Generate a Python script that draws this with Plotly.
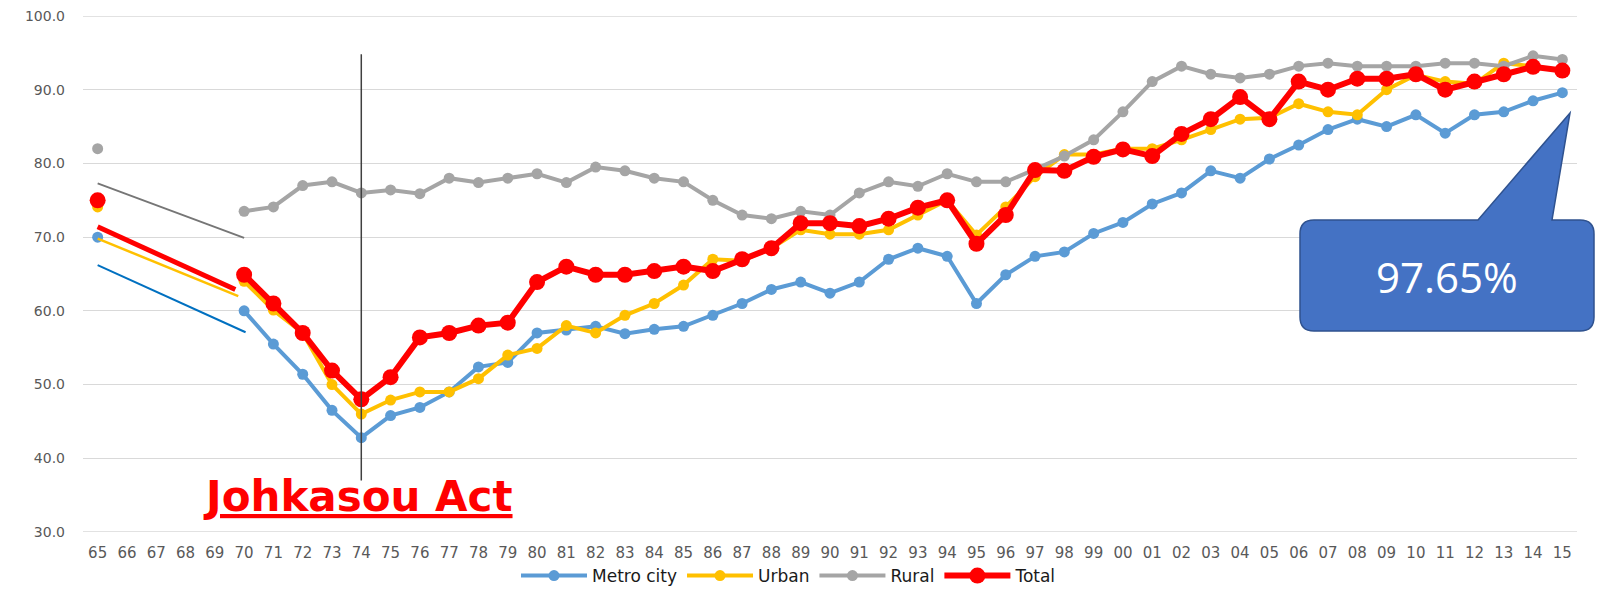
import plotly.graph_objects as go

years = ["65", "66", "67", "68", "69", "70", "71", "72", "73", "74",
         "75", "76", "77", "78", "79", "80", "81", "82", "83", "84",
         "85", "86", "87", "88", "89", "90", "91", "92", "93", "94",
         "95", "96", "97", "98", "99", "00", "01", "02", "03", "04",
         "05", "06", "07", "08", "09", "10", "11", "12", "13", "14", "15"]

metro = [70.0, None, None, None, None, 60.0, 55.5, 51.4, 46.5, 42.8,
         45.8, 46.9, 49.0, 52.4, 53.0, 57.0, 57.4, 57.9, 56.9, 57.5,
         57.9, 59.4, 61.0, 62.9, 63.9, 62.4, 63.9, 67.0, 68.5, 67.4,
         61.0, 64.9, 67.4, 68.0, 70.5, 72.0, 74.5, 76.0, 79.0, 78.0,
         80.6, 82.5, 84.6, 86.0, 85.0, 86.6, 84.1, 86.6, 87.0, 88.5, 89.6]

urban = [74.1, None, None, None, None, 64.0, 60.1, 57.0, 50.0, 46.0,
         47.9, 49.0, 49.0, 50.8, 54.0, 54.9, 58.0, 57.0, 59.4, 61.0,
         63.5, 67.0, 66.8, 68.5, 71.0, 70.4, 70.4, 71.0, 73.0, 75.0,
         70.3, 74.1, 78.2, 81.2, 81.2, 82.0, 82.0, 83.2, 84.6, 86.0,
         86.2, 88.1, 87.0, 86.6, 90.0, 92.0, 91.1, 90.8, 93.6, 93.2, 92.6]

rural = [82.0, None, None, None, None, 73.5, 74.1, 77.0, 77.5, 76.0,
         76.4, 75.9, 78.0, 77.4, 78.0, 78.6, 77.4, 79.5, 79.0, 78.0,
         77.5, 75.0, 73.0, 72.5, 73.5, 73.0, 76.0, 77.5, 76.9, 78.6,
         77.5, 77.5, 79.2, 81.0, 83.2, 87.0, 91.1, 93.2, 92.1, 91.6,
         92.1, 93.2, 93.6, 93.2, 93.2, 93.2, 93.6, 93.6, 93.2, 94.6, 94.1]

total = [75.0, None, None, None, None, 64.9, 61.0, 57.0, 51.9, 48.0,
         51.0, 56.4, 57.0, 58.0, 58.4, 63.9, 66.0, 64.9, 64.9, 65.4,
         66.0, 65.4, 67.0, 68.5, 71.9, 71.9, 71.5, 72.5, 74.0, 75.0,
         69.1, 73.0, 79.1, 79.0, 80.9, 81.9, 81.0, 84.0, 86.0, 89.0,
         86.0, 91.1, 90.0, 91.5, 91.5, 92.1, 90.0, 91.1, 92.1, 93.1, 92.6]

series_names = ["Metro city", "Urban", "Rural", "Total"]
series_values = [metro, urban, rural, total]
series_colors = ["#5B9BD5", "#FFC000", "#A5A5A5", "#FF0000"]

# hand-drawn trend segments over the 65-70 gap: (x0, y0, x1, y1) in category index / value
trend_segments = {
    "rural": (0.0, 77.3, 5.0, 69.9),
    "total": (0.0, 71.4, 4.7, 62.9),
    "urban": (0.0, 69.8, 4.8, 62.0),
    "metro": (0.0, 66.2, 5.05, 57.1),
}
trend_colors = {"rural": "#767676", "total": "#FF0000", "urban": "#FFC000", "metro": "#0070C0"}
trend_widths = {"rural": 2, "total": 5, "urban": 2.5, "metro": 2}

y_range = (30, 100)
act_year_index = 9
act_line_range = (37.0, 94.8)
act_label = "Johkasou Act"
callout_label = "97.65%"

# the page body has an 8px margin, so the figure is sized to fit the 1603x596 window exactly
BODY = 8
W, H = 1603 - 2 * BODY, 596 - 2 * BODY
ML, MR, MT, MB = 75, 18, 8, 56
PW = W - ML - MR
PH = H - MT - MB


def px_x(page_px):
    return (page_px - BODY - ML) / PW


def px_y(page_py):
    return (H - MB - (page_py - BODY)) / PH


fig = go.Figure()
for name, vals, col in zip(series_names, series_values, series_colors):
    is_total = name == "Total"
    fig.add_trace(go.Scatter(
        x=years, y=vals, name=name, mode="lines+markers",
        line=dict(color=col, width=6 if is_total else 4),
        marker=dict(color=col, size=16 if is_total else 11),
        connectgaps=False,
    ))

# gridlines at the range edges (plotly drops gridlines sitting on the plot border)
for edge in y_range:
    fig.add_shape(type="line", xref="paper", yref="y", x0=0, x1=1, y0=edge, y1=edge,
                  line=dict(color="#D9D9D9", width=1.5), layer="below")

for key, (x0, y0, x1, y1) in trend_segments.items():
    fig.add_shape(type="line", xref="x", yref="y", x0=x0, y0=y0, x1=x1, y1=y1,
                  line=dict(color=trend_colors[key], width=trend_widths[key]))

fig.add_shape(type="line", xref="x", yref="y", x0=act_year_index, x1=act_year_index,
              y0=act_line_range[0], y1=act_line_range[1],
              line=dict(color="#404040", width=1.5))

fig.add_annotation(xref="paper", yref="paper", x=px_x(358), y=px_y(496),
                   text="<b><u>" + act_label + "</u></b>", showarrow=False,
                   xanchor="center", yanchor="middle",
                   font=dict(family="DejaVu Sans", size=42, color="#FF0000"))

# callout (page pixel geometry)
L, R, T, B, r = 1300, 1594, 220, 331, 14
bx1, bx2, tipx, tipy = 1478, 1552, 1570, 113
pts = [("M", L + r, T), ("L", bx1, T), ("L", tipx, tipy), ("L", bx2, T), ("L", R - r, T),
       ("Q", R, T, R, T + r), ("L", R, B - r), ("Q", R, B, R - r, B), ("L", L + r, B),
       ("Q", L, B, L, B - r), ("L", L, T + r), ("Q", L, T, L + r, T)]
path = ""
for p in pts:
    cmd = p[0]
    coords = p[1:]
    s = cmd
    for i in range(0, len(coords), 2):
        s += " %.5f,%.5f" % (px_x(coords[i]), px_y(coords[i + 1]))
    path += s + " "
path += "Z"
fig.add_shape(type="path", xref="paper", yref="paper", path=path,
              fillcolor="#4472C4", line=dict(color="#2F528F", width=1.5), layer="above")
fig.add_annotation(xref="paper", yref="paper", x=px_x(1447), y=px_y(276),
                   text=callout_label, showarrow=False, xanchor="center", yanchor="middle",
                   font=dict(family="Open Sans", size=42, color="#FFFFFF"))

fig.update_layout(
    width=W, height=H,
    margin=dict(l=ML, r=MR, t=MT, b=MB, autoexpand=False),
    plot_bgcolor="white", paper_bgcolor="white",
    font=dict(family="DejaVu Sans", color="#595959"),
    showlegend=True,
    legend=dict(orientation="h", x=px_x(789), xanchor="center", y=px_y(576), yanchor="middle",
                font=dict(size=17, color="#1a1a1a"), itemwidth=66, bgcolor="rgba(0,0,0,0)"),
)
fig.update_xaxes(type="category", range=[-0.5, 50.5], showgrid=False, showline=False,
                 ticks="", tickfont=dict(size=15, color="#595959"), ticklabelstandoff=10,
                 automargin=False, ticklabeloverflow="allow")
fig.update_yaxes(range=list(y_range), dtick=10, tickformat=".1f", showgrid=True,
                 gridcolor="#D9D9D9", gridwidth=1.2, zeroline=False, showline=False,
                 ticks="", tickfont=dict(size=14, color="#595959"), ticklabelstandoff=17,
                 automargin=False, ticklabeloverflow="allow")

fig.write_html("out.html")
